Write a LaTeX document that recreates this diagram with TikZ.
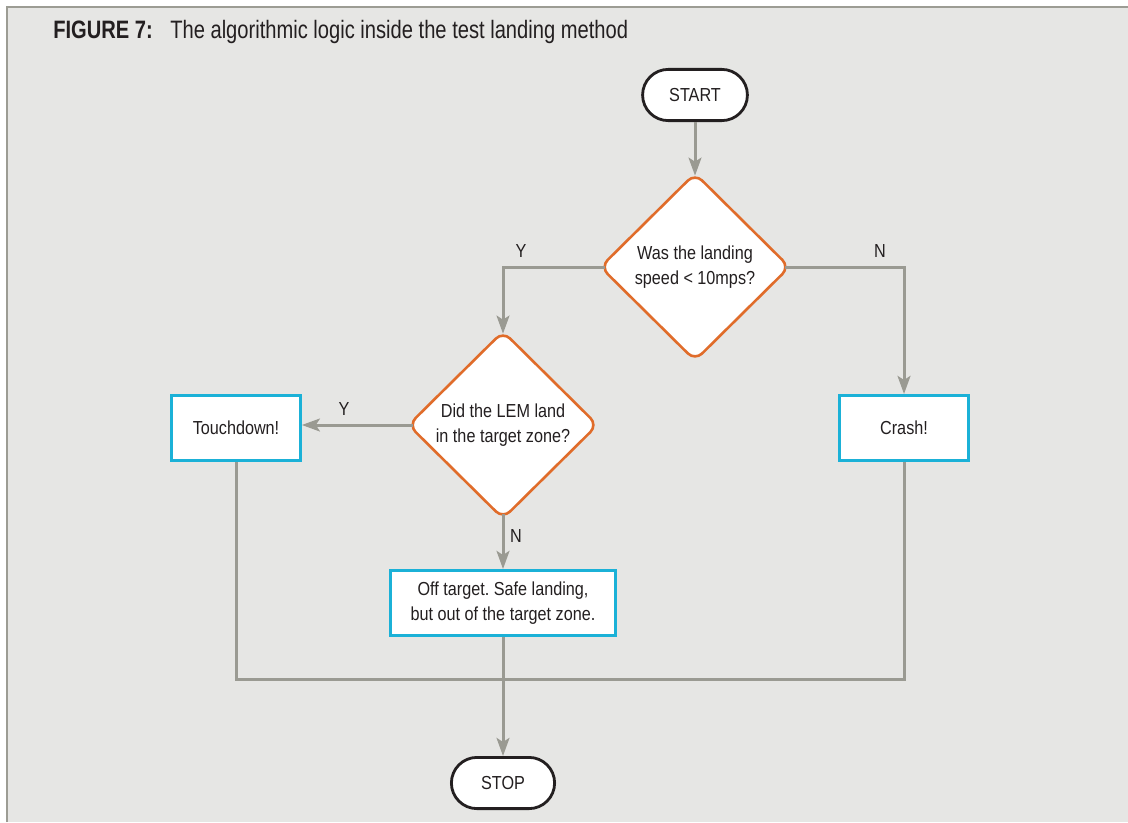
\documentclass[tikz,border=0pt]{standalone}
\usepackage{fontspec}
\setmainfont{Liberation Sans}[FakeStretch=0.86]
\newfontfamily\titlefont{Liberation Sans}[FakeStretch=0.8]
\usetikzlibrary{shapes.geometric,arrows.meta}
\definecolor{panelbg}{HTML}{E6E6E4}
\definecolor{panelrule}{HTML}{9C9C94}
\definecolor{flowgrey}{HTML}{9A9A92}
\definecolor{askorange}{HTML}{E06C2A}
\definecolor{boxcyan}{HTML}{1BB1D7}
\definecolor{inkdark}{HTML}{231F20}
\frenchspacing
\tikzset{
  terminal/.style={
    draw = inkdark,
    fill = white,
    line width = 0.07cm,
    rounded corners = 0.64cm,
    minimum width = 2.62cm,
    minimum height = 1.28cm,
    inner sep = 0pt
  },
  decision/.style={
    shape = diamond,
    draw = askorange,
    fill = white,
    line width = 0.065cm,
    rounded corners = 0.25cm,
    minimum width = 4.75cm,
    minimum height = 4.7cm,
    inner sep = 0pt,
    align = center
  },
  outcome/.style={
    draw = boxcyan,
    fill = white,
    line width = 0.07cm,
    minimum height = 1.63cm,
    inner sep = 0pt,
    align = center
  },
  flow/.style={
    draw = flowgrey,
    line width = 0.075cm
  },
  flowarrow/.style={
    flow,
    -{Stealth[length=0.45cm, width=0.32cm, inset=0.1cm]}
  },
  answer/.style={
    inner sep = 0pt
  },
  every node/.style = {
    text = inkdark,
    font = \fontsize{13.4}{17.8}\selectfont
  }
}

\begin{document}
\begin{tikzpicture}[x=0.025cm, y=-0.025cm]
    \useasboundingbox (0,0) rectangle (1128,822);
    % panel
    \fill[panelbg] (7,7) rectangle (1128,822);
    \draw[panelrule, line width=0.05cm] (7,822) -- (7,7) -- (1128,7);
    \node[anchor=base west, inner sep=0pt, font=\titlefont\bfseries\fontsize{17.9}{20}\selectfont] (figtag) at (53,38) {FIGURE 7:};
    \node[anchor=base west, inner sep=0pt, font=\titlefont\fontsize{17.9}{20}\selectfont] (figcaption) at (170,38) {The algorithmic logic inside the test landing method};

    \node[terminal] (start) at (695,95) {START};
    \node[decision] (q1) at (695,267) {Was the landing\\speed < 10mps?};
    \node[decision] (q2) at (503,425) {Did the LEM land\\in the target zone?};
    \node[outcome, minimum width=3.22cm] (touch) at (236,428) {Touchdown!};
    \node[outcome, minimum width=3.22cm] (crash) at (904,428) {Crash!};
    \node[outcome, minimum width=5.62cm] (offt) at (503,603) {Off target. Safe landing,\\but out of the target zone.};
    \node[terminal, minimum width=2.58cm] (stop) at (503,783) {STOP};
    \coordinate (merge) at (503,679);

    \node[answer] (q1yes) at (521,251) {Y};
    \node[answer] (q1no) at (880,251) {N};
    \node[answer] (q2yes) at (344,409) {Y};
    \node[answer] (q2no) at (516,536) {N};

    \draw[flowarrow, shorten >=-0.1cm] (start) -- (q1.north);
    \draw[flowarrow, shorten <=-0.15cm, shorten >=-0.1cm] (q1.west) -| (q2.north);
    \draw[flowarrow, shorten <=-0.15cm] (q1.east) -| (crash.north);
    \draw[flowarrow, shorten <=-0.15cm] (q2.west) -- (q2.west -| touch.east);
    \draw[flowarrow, shorten <=-0.15cm] (q2.south) -- (offt.north);
    \draw[flow] (touch.south) |- (merge) -| (crash.south);
    \draw[flowarrow] (offt.south) -- (stop.north);
\end{tikzpicture}
\end{document}
